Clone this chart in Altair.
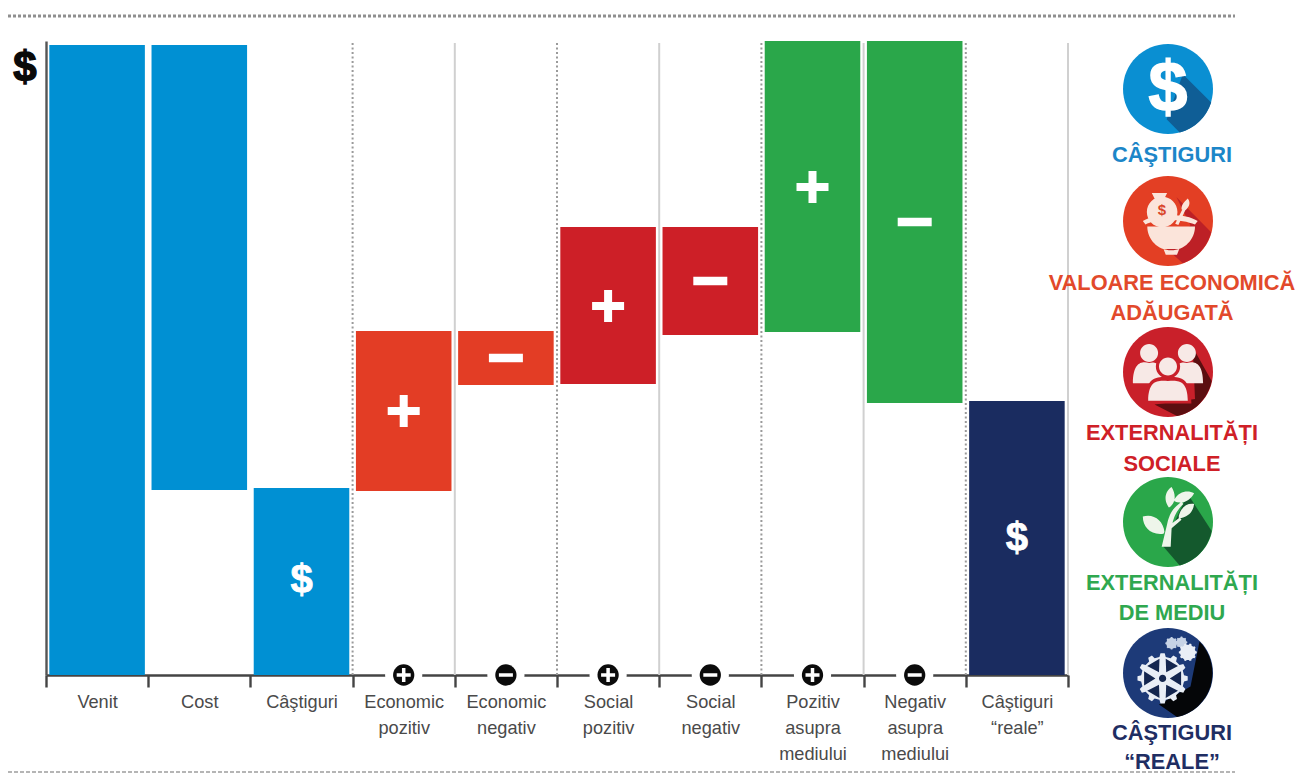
import math

import altair as alt
import pandas as pd

# Waterfall values: each bar runs from a low to a high amount above the baseline.
categories = [
    "Venit", "Cost", "Câştiguri",
    "Economic pozitiv", "Economic negativ",
    "Social pozitiv", "Social negativ",
    "Pozitiv asupra mediului", "Negativ asupra mediului",
    "Câştiguri “reale”",
]
bar_low = [0, 185, 0, 184, 290, 291, 340, 343, 272, 0]
bar_high = [630, 630, 187, 344, 344, 448, 448, 634, 634, 274]
bar_group = ["profit", "profit", "profit", "economic", "economic",
             "social", "social", "environment", "environment", "real"]

# Signs shown on the externality bars, with the amount each one sits at.
signed_categories = categories[3:9]
signs = ["+", "-", "+", "-", "+", "-"]
sign_levels = [264, 317, 369, 394, 488, 453]

# The "$" marks on the two profit bars.
dollar_categories = ["Câştiguri", "Câştiguri “reale”"]
dollar_levels = [94, 136]

group_names = ["profit", "economic", "social", "environment", "real"]
group_colors = ["#0090D3", "#E33D25", "#CD1F27", "#2AA74A", "#1A2C60"]

legend_lines = [
    ("CÂŞTIGURI", 155, "#1C86C8"),
    ("VALOARE ECONOMICĂ", 283, "#E2492B"),
    ("ADĂUGATĂ", 313, "#E2492B"),
    ("EXTERNALITĂȚI", 433, "#CF2027"),
    ("SOCIALE", 464, "#CF2027"),
    ("EXTERNALITĂȚI", 583, "#2FA84F"),
    ("DE MEDIU", 613, "#2FA84F"),
    ("CÂŞTIGURI", 733, "#1F2E63"),
    ("“REALE”", 762, "#1F2E63"),
]

LEFT, TOP, PLOT_W, PLOT_H = 46, 41, 1022, 634
STEP = PLOT_W / len(categories)
ICON_X, ICON_R = 1168, 45

PLUS = "M-1,-.25H-.25V-1H.25V-.25H1V.25H.25V1H-.25V.25H-1Z"
MINUS = "M-1,-.25H1V.25H-1Z"
DISC = "M-1,0A1,1 0 1 1 1,0A1,1 0 1 1 -1,0Z"


def px(x, y):
    """Page position expressed in the plot group's coordinates."""
    return {"x": alt.value(x - LEFT), "y": alt.value(y - TOP)}


def blot(path, x, y, radius, color):
    """A filled custom symbol whose unit box spans radius on each side."""
    return alt.Chart(pd.DataFrame({"k": [0]})).mark_point(
        shape=path, filled=True, opacity=1, color=color,
        size=(2 * radius) ** 2, strokeWidth=0,
    ).encode(**px(x, y))


def label(text, x, y, size, color, font="Liberation Sans", weight="bold", stroke=None):
    opts = dict(text=text, fontSize=size, font=font, fontWeight=weight, color=color,
                align="center", baseline="middle")
    if stroke:
        opts.update(stroke=color, strokeWidth=stroke)
    return alt.Chart(pd.DataFrame({"k": [0]})).mark_text(**opts).encode(**px(x, y))


def circle(cx, cy, r):
    return f"M{cx - r},{cy}A{r},{r} 0 1 1 {cx + r},{cy}A{r},{r} 0 1 1 {cx - r},{cy}Z"


def gear(cx, cy, r, teeth):
    """Closed outline of a toothed wheel."""
    parts = []
    for i in range(teeth):
        for off, rad in ((-0.28, r * 0.86), (-0.16, r), (0.16, r), (0.28, r * 0.86)):
            a = 2 * math.pi * (i + off) / teeth
            parts.append(f"{cx + rad * math.cos(a):.3f},{cy + rad * math.sin(a):.3f}")
    return "M" + "L".join(parts) + "Z"


def wedge(cx, cy, r0, r1, angle, spread):
    a = math.radians(angle)
    s = math.radians(spread)
    pts = [(cx + r0 * math.cos(a), cy + r0 * math.sin(a)),
           (cx + r1 * math.cos(a - s), cy + r1 * math.sin(a - s)),
           (cx + r1 * math.cos(a + s), cy + r1 * math.sin(a + s))]
    return "M" + "L".join(f"{p[0]:.3f},{p[1]:.3f}" for p in pts) + "Z"


# --- shared scales and axes --------------------------------------------------
x_scale = alt.Scale(domain=categories, paddingInner=0, paddingOuter=0)
y_scale = alt.Scale(domain=[0, PLOT_H], nice=False)
x_axis = alt.Axis(
    labelExpr="split(datum.label, ' ')", labelAngle=0, labelFontSize=18.2,
    labelFont="Liberation Sans", labelColor="#4a4a4a", labelLineHeight=26,
    labelPadding=6, labelOverlap=False, labelLimit=200, labelBaseline="top",
    tickBand="extent", tickSize=12, tickWidth=2.4, tickColor="#444444",
    domainColor="#444444", domainWidth=2.4, grid=False, zindex=0,
)
y_axis = alt.Axis(labels=False, ticks=False, grid=False, domainColor="#555555", domainWidth=2.4, zindex=0)
x_enc = alt.X("category:N", scale=x_scale, sort=categories, title=None, axis=x_axis)
base_y = alt.YDatum(0, scale=y_scale, title=None, axis=y_axis)
level_y = alt.Y("level:Q", scale=y_scale, title=None, axis=y_axis)

# --- waterfall bars ----------------------------------------------------------
bars_df = pd.DataFrame({"category": categories, "low": bar_low, "high": bar_high, "group": bar_group})
bars = alt.Chart(bars_df).mark_bar(cornerRadius=0, width=alt.RelativeBandSize(band=0.935)).encode(
    x=x_enc,
    y=alt.Y("low:Q", scale=y_scale, title=None, axis=y_axis),
    y2="high:Q",
    color=alt.Color("group:N", legend=None, scale=alt.Scale(domain=group_names, range=group_colors)),
)

# --- separators between the category groups ---------------------------------
edges = pd.DataFrame({"pos": [i * STEP for i in range(3, 11)], "kind": ["dot", "solid"] * 4})
separators = []
for kind, color, dash, width in (("dot", "#9a9a9a", [2, 2.5], 2), ("solid", "#d0d0d0", [1, 0], 2)):
    separators.append(
        alt.Chart(edges[edges.kind == kind]).mark_rule(color=color, strokeDash=dash, strokeWidth=width).encode(
            x=alt.X("pos:Q", scale=None), y=alt.value(2), y2=alt.value(PLOT_H)
        )
    )

# --- dotted frame lines above and below --------------------------------------
frame_top = alt.Chart(pd.DataFrame({"k": [0]})).mark_rule(
    color="#8f8f8f", strokeDash=[3, 2], strokeWidth=3
).encode(x=alt.value(8 - LEFT), x2=alt.value(1235 - LEFT), y=alt.value(16 - TOP))
frame_bottom = alt.Chart(pd.DataFrame({"k": [0]})).mark_rule(
    color="#b5b5b5", strokeDash=[4, 2], strokeWidth=2
).encode(x=alt.value(8 - LEFT), x2=alt.value(1235 - LEFT), y=alt.value(772 - TOP))

# --- signs on the bars and along the baseline --------------------------------
signs_df = pd.DataFrame({"category": signed_categories, "sign": signs, "level": sign_levels})
base = alt.Chart(signs_df)
halo = base.mark_point(filled=True, color="white", opacity=1, size=1385, strokeWidth=0).encode(x=x_enc, y=base_y)
badge = base.mark_point(filled=True, color="#0b0b0b", opacity=1, size=452, strokeWidth=0).encode(x=x_enc, y=base_y)
sign_layers = []
for sign, path, big in (("+", PLUS, 1024), ("-", MINUS, 1156)):
    subset = alt.Chart(signs_df[signs_df.sign == sign])
    sign_layers.append(subset.mark_point(shape=path, filled=True, color="white", opacity=1, size=big, strokeWidth=0).encode(
        x=x_enc, y=level_y))
    sign_layers.append(subset.mark_point(shape=path, filled=True, color="white", opacity=1, size=196, strokeWidth=0).encode(
        x=x_enc, y=base_y))

dollars = alt.Chart(pd.DataFrame({"category": dollar_categories, "level": dollar_levels, "t": ["$", "$"]})).mark_text(
    font="Liberation Sans", fontWeight="bold", fontSize=40, color="white", stroke="white", strokeWidth=0.8,
    align="center", baseline="middle",
).encode(x=x_enc, y=level_y, text="t:N")

# --- legend icons --------------------------------------------------------------
icons = []

# Profit: plain dollar sign with a long shadow.
y = 89
icons += [
    blot(DISC, ICON_X, y, ICON_R, "#0A8FD2"),
    blot("M.33,-.33L.96,.3A1,1 0 0 1 .26,.966L-.03,.67Z", ICON_X, y, ICON_R, "#0F5E96"),
    label("$", ICON_X, y + 1, 70, "white", stroke=1.5),
]

# Added economic value: money bag over a bowl with a sprig.
y = 221
bag = circle(-.13, -.2, .34) + "M-.36,-.62L-.02,-.62L-.1,-.46L-.28,-.46Z"
bowl = "M-.46,.12L.6,.12A.53,.53 0 0 1 -.46,.12Z" + "M-.05,.75L.2,.75L.25,.62L-.1,.62Z"
sprig = "M.16,.06L.34,-.3L.4,-.27L.23,.09Z" + "M.3,-.26C.3,-.4 .4,-.45 .44,-.5C.52,-.4 .46,-.28 .36,-.22Z"
icons += [
    blot(DISC, ICON_X, y, ICON_R, "#E33F24"),
    blot("M.19,-.53L.96,.25A1,1 0 0 1 .33,.94L-.05,.6L.5,.1Z", ICON_X, y, ICON_R, "#BD2026"),
    blot(bag, ICON_X, y, ICON_R, "#FBE4DA"),
    blot("M-.56,.0C-.3,-.18 .4,-.18 .66,.0L.6,.08C.3,-.06 -.3,-.06 -.5,.08Z", ICON_X, y, ICON_R, "#FBE4DA"),
    blot(bowl, ICON_X, y, ICON_R, "#FBE4DA"),
    blot(sprig, ICON_X, y, ICON_R, "#FBE4DA"),
    label("$", ICON_X - 6, y - 11, 15, "#D9442A"),
]

# Social: three figures.
y = 372
side_heads = circle(-.42, -.42, .2) + circle(.42, -.42, .2)
side_bodies = ("M-.78,.25C-.78,-.25 -.55,-.24 -.42,-.2C-.29,-.24 -.1,-.2 -.1,.25Z"
               "M.78,.25C.78,-.25 .55,-.24 .42,-.2C.29,-.24 .1,-.2 .1,.25Z")
front_outline = circle(0, -.12, .27) + "M-.52,.7C-.52,.08 -.2,.1 0,.12C.2,.1 .52,.08 .52,.7Z"
front = circle(0, -.12, .2) + "M-.44,.64C-.44,.16 -.2,.18 0,.2C.2,.18 .44,.16 .44,.64Z"
icons += [
    blot(DISC, ICON_X, y, ICON_R, "#C9202A"),
    blot("M.55,-.55L.97,.2A1,1 0 0 1 .2,.98L-.3,.72L.6,.6Z", ICON_X, y, ICON_R, "#5C0E10"),
    blot(side_heads + side_bodies, ICON_X, y, ICON_R, "#F7E9E6"),
    blot(front_outline, ICON_X, y, ICON_R, "#C9202A"),
    blot(front, ICON_X, y, ICON_R, "#F7E9E6"),
]

# Environment: a sprouting plant.
y = 522
plant = ("M-.14,.55L-.02,.05C.04,-.2 .1,-.3 .3,-.45L.34,-.4C.18,-.24 .14,-.12 .1,.02L.26,-.1L.3,-.05L.08,.14L.06,.55Z"
         "M.0,-.35C-.12,-.55 -.02,-.72 .08,-.78C.18,-.62 .18,-.42 .02,-.32Z"
         "M.14,-.5C.24,-.68 .44,-.72 .58,-.64C.5,-.48 .32,-.38 .14,-.46Z"
         "M.24,-.14C.3,-.34 .42,-.42 .58,-.4C.56,-.22 .44,-.1 .24,-.08Z"
         "M-.1,.26C-.38,.3 -.56,.12 -.56,-.12C-.34,-.2 -.1,-.04 -.08,.22Z")
icons += [
    blot(DISC, ICON_X, y, ICON_R, "#2AA74A"),
    blot("M.44,-.62L.97,.2A1,1 0 0 1 .26,.966L-.1,.55L.1,.1Z", ICON_X, y, ICON_R, "#14592D"),
    blot(plant, ICON_X, y, ICON_R, "#EEF5EA"),
]

# Real profit: gears.
y = 673
hub_x, hub_y = -.12, .12
holes = "".join(wedge(hub_x, hub_y, .16, .44, a, 21) for a in (0, 60, 120, 180, 240, 300))
icons += [
    blot(DISC, ICON_X, y, ICON_R, "#1D3A78"),
    blot("M.7,-.7A1,1 0 0 1 .2,.98L-.2,.7L.5,.3Z", ICON_X, y, ICON_R, "#050608"),
    blot(gear(hub_x, hub_y, .56, 12), ICON_X, y, ICON_R, "#E9EEF6"),
    blot(holes + circle(hub_x, hub_y, .08), ICON_X, y, ICON_R, "#14264F"),
    blot(gear(.08, -.66, .14, 8) + gear(.3, -.68, .13, 8), ICON_X, y, ICON_R, "#C7D3E6"),
    blot(gear(.44, -.46, .2, 10), ICON_X, y, ICON_R, "#E9EEF6"),
]

legend_text = [label(t, 1172, ly, 21.8, c) for t, ly, c in legend_lines]

axis_dollar = label("$", 25, 68, 42, "#0a0a0a", stroke=1.4)

chart = alt.layer(
    bars, *separators, frame_top, frame_bottom, halo, badge, *sign_layers, dollars,
    *icons, *legend_text, axis_dollar,
).properties(
    width=PLOT_W, height=PLOT_H,
    padding={"left": LEFT, "top": TOP, "right": 1299 - LEFT - PLOT_W, "bottom": 775 - TOP - PLOT_H},
    autosize=alt.AutoSizeParams(type="none"),
    background="white",
).configure_view(stroke=None)

chart.save("out.html", embed_options={"renderer": "svg", "actions": False})
